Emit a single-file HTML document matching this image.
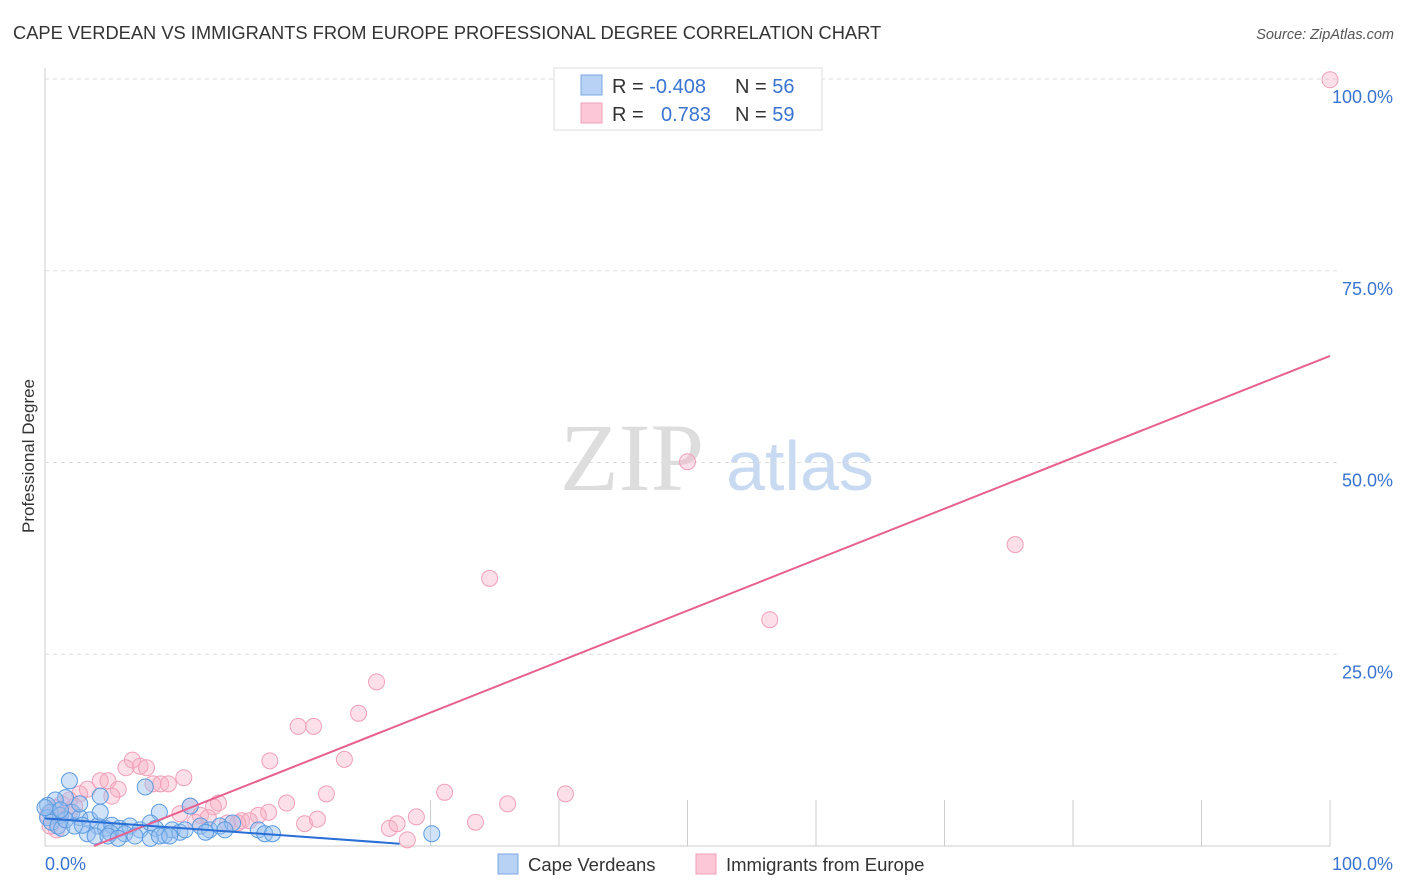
<!DOCTYPE html>
<html><head><meta charset="utf-8"><style>
body{margin:0;background:#fff;font-family:"Liberation Sans",sans-serif;}
#wrap{position:relative;width:1406px;height:892px;overflow:hidden;}
</style></head><body>
<div id="wrap">
<svg id="svg" width="1406" height="892" xmlns="http://www.w3.org/2000/svg">
<text x="13" y="39" font-size="18.3" fill="#333">CAPE VERDEAN VS IMMIGRANTS FROM EUROPE PROFESSIONAL DEGREE CORRELATION CHART</text>
<text x="1394" y="39" font-size="14.5" fill="#555" font-style="italic" text-anchor="end">Source: ZipAtlas.com</text>
<text x="34" y="456" font-size="17" fill="#333" text-anchor="middle" transform="rotate(-90 34 456)">Professional Degree</text>
<text x="632" y="490" font-size="96" fill="#ddd" font-family="Liberation Serif,serif" text-anchor="middle">ZIP</text>
<text x="800" y="490" font-size="70" fill="#c8daf2" text-anchor="middle">atlas</text>
<g id="grid"></g>
<g id="pts"></g>
<g id="lines"></g>
<g>
<rect x="554" y="68" width="268" height="62" fill="#fff" stroke="#ddd"/>
<rect x="581" y="75" width="21" height="20" fill="#b8d2f5" stroke="#7aa8e0"/>
<rect x="581" y="103" width="21" height="20" fill="#fcc8d8" stroke="#f0a0b8"/>
<text x="612" y="93" font-size="20" fill="#333">R = <tspan fill="#3a74d0">-0.408</tspan></text>
<text x="735" y="93" font-size="20" fill="#333">N = <tspan fill="#3a74d0">56</tspan></text>
<text x="612" y="121" font-size="20" fill="#333">R = <tspan fill="#3a74d0" x="661">0.783</tspan></text>
<text x="735" y="121" font-size="20" fill="#333">N = <tspan fill="#3a74d0">59</tspan></text>
</g>
<g>
<rect x="498" y="854" width="20" height="20" fill="#b8d2f5" stroke="#7aa8e0"/>
<text x="528" y="871" font-size="18.5" fill="#333">Cape Verdeans</text>
<rect x="696" y="854" width="20" height="20" fill="#fcc8d8" stroke="#f0a0b8"/>
<text x="726" y="871" font-size="18.5" fill="#333">Immigrants from Europe</text>
</g>
</svg>
</div>
<script>
const yTicks=[100,75,50,25];
const yTickLabels=["100.0%","75.0%","50.0%","25.0%"];
const xTicks=[30,40,50,60,70,80,90,100];
const blueX=[1.9,7.8,8.9,11.3,4.3,1.6,0.8,0.2,0.4,1.2,2.1,2.7,3.5,4.1,4.7,5.2,5.8,6.6,7.4,8.2,8.6,9.3,9.9,10.5,12.1,12.8,13.6,14.6,16.6,17.1,17.7,30.1,3.3,3.9,5.1,6.2,0.2,0.5,1.0,1.3,1.6,2.3,2.9,4.9,5.7,7.0,8.2,8.9,9.7,10.9,12.5,14.0,1.2,0,2.7,4.3];
const blueY=[8.5,7.7,4.4,5.2,6.5,6.3,6.0,5.3,4.4,4.0,4.4,3.7,3.4,2.6,2.3,2.7,2.3,2.6,2.1,3.0,2.3,1.4,2.1,1.8,2.6,2.1,2.6,3.0,2.1,1.6,1.6,1.6,1.6,1.3,1.7,1.6,3.7,3.1,2.6,2.3,3.4,2.6,2.7,1.3,1.0,1.3,1.0,1.3,1.3,2.1,1.8,2.1,4.7,5.0,5.5,4.4];
const pinkX=[100,50.0,75.5,34.6,56.4,25.8,19.7,20.9,24.4,17.5,23.3,6.8,7.4,6.3,7.9,4.3,4.9,10.8,8.4,9.0,9.6,5.7,5.2,3.3,2.7,1.9,1.3,2.3,31.1,40.5,21.9,36.0,18.8,11.3,13.5,13.1,28.9,33.5,17.4,16.6,15.3,15.9,14.2,15.0,12.1,12.7,20.2,21.2,26.8,27.4,28.2,0.9,0.4,1.2,1.9,0.8,0.2,10.5,11.7];
const pinkY=[99.9,50.1,39.3,34.9,29.5,21.4,15.6,15.6,17.3,11.1,11.3,11.2,10.4,10.2,10.2,8.5,8.5,8.9,8.1,8.1,8.1,7.4,6.5,7.4,6.8,6.0,5.5,5.2,7.0,6.8,6.8,5.5,5.6,5.2,5.6,5.1,3.8,3.1,4.4,4.0,3.3,3.3,3.0,3.0,4.0,3.7,2.9,3.5,2.3,2.9,0.8,2.1,2.6,4.0,4.4,5.0,4.0,4.2,3.1];
const blueLine=[[0,3.6],[27.6,0.3]];
const pinkLine=[[3.8,0],[100,63.9]];
const NS="http://www.w3.org/2000/svg";
const X=v=>45+v*12.85, Y=v=>846-v*7.67;
function mk(t,a,p){const e=document.createElementNS(NS,t);for(const k in a)e.setAttribute(k,a[k]);p.appendChild(e);return e;}
const grid=document.getElementById('grid');
let ax=mk('line',{x1:45,y1:68,x2:45,y2:846,stroke:'#ccc'},grid);


let bx=mk('line',{x1:45,y1:846,x2:1330,y2:846,stroke:'#ccc'},grid);


yTicks.forEach((t,i)=>{
 let g=mk('line',{x1:45,y1:Y(t),x2:1340,y2:Y(t),stroke:'#ddd','stroke-dasharray':'4,4'},grid);
 
 
 let l=mk('text',{x:1393,y:Y(t)+24,'font-size':18,fill:'#3a74d0','text-anchor':'end'},grid);
 l.textContent=yTickLabels[i];
 
 
});
xTicks.forEach(t=>{
 let g=mk('line',{x1:X(t),y1:800,x2:X(t),y2:846,stroke:'#ccc'},grid);
 
 
});
let x0=mk('text',{x:45,y:870,'font-size':18,fill:'#3a74d0'},grid);x0.textContent='0.0%';


let x1=mk('text',{x:1393,y:870,'font-size':18,fill:'#3a74d0','text-anchor':'end'},grid);x1.textContent='100.0%';


const pts=document.getElementById('pts');
pinkX.forEach((v,i)=>{
 let c=mk('circle',{cx:X(v),cy:Y(pinkY[i]),r:8,fill:'rgba(248,175,198,0.4)',stroke:'#f0a0b8','stroke-width':1},pts);
 
 
});
blueX.forEach((v,i)=>{
 let c=mk('circle',{cx:X(v),cy:Y(blueY[i]),r:8,fill:'rgba(150,190,240,0.45)',stroke:'#5b9be0','stroke-width':1},pts);
 
 
});
const lines=document.getElementById('lines');
let pl=mk('line',{x1:X(pinkLine[0][0]),y1:Y(pinkLine[0][1]),x2:X(pinkLine[1][0]),y2:Y(pinkLine[1][1]),stroke:'#e8608e','stroke-width':2},lines);


let bl=mk('line',{x1:X(blueLine[0][0]),y1:Y(blueLine[0][1]),x2:X(blueLine[1][0]),y2:Y(blueLine[1][1]),stroke:'#2a6fd6','stroke-width':2},lines);


</script>
</body></html>
